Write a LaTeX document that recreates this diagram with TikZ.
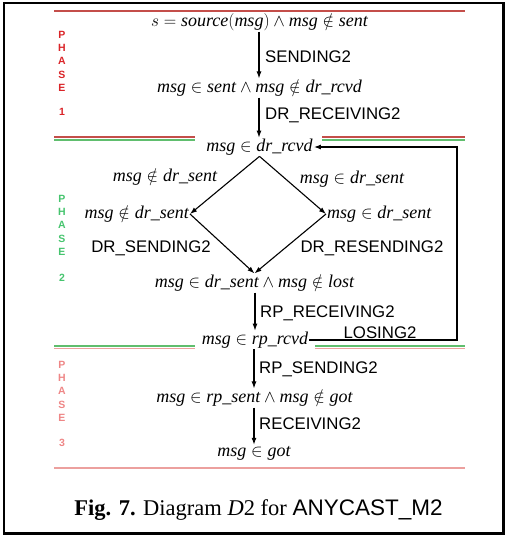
\documentclass[tikz,border=0pt]{standalone}
\usepackage{fontspec}
\setmainfont{Liberation Serif}
\setsansfont{Liberation Sans}
\usetikzlibrary{arrows.meta}
\definecolor{phaseA}{RGB}{218,36,40}
\definecolor{phaseB}{RGB}{70,196,110}
\definecolor{phaseC}{RGB}{238,134,134}
\definecolor{ruleA}{RGB}{196,78,74}
\definecolor{ruleB}{RGB}{96,190,110}
\definecolor{ruleC}{RGB}{236,160,158}
\newcommand{\vn}[1]{\mbox{\itshape #1}}
\begin{document}
\begin{tikzpicture}[x=1pt,y=-1pt,
  cond/.style={inner sep=1pt, font=\fontsize{18}{20}\selectfont},
  act/.style={inner sep=0pt, anchor=west, font=\sffamily\fontsize{16.8}{18}\selectfont},
  flow/.style={line width=1.1pt, -{Latex[length=7pt,width=5pt]}},
  phase/.style={font=\sffamily\bfseries\fontsize{10.5}{13.2}\selectfont, align=center, inner sep=0pt, anchor=north},
  rule/.style={line width=1.2pt}]
\useasboundingbox (0,0) rectangle (506,536);
\draw[line width=2.6pt] (4,3) rectangle (503.5,533.5);

% phase separators
\draw[rule, ruleA] (54,11) -- (465,11);
\draw[rule, ruleA] (54,137) -- (195,137) (322,137) -- (465,137);
\draw[rule, ruleB] (54,140) -- (195,140) (322,140) -- (465,140);
\draw[rule, ruleB] (54,346) -- (195,346) (315,346) -- (465,346);
\draw[rule, ruleC] (54,348.6) -- (195,348.6) (315,348.6) -- (465,348.6);
\draw[rule, ruleC] (54,468) -- (465,468);

% phase labels
\node[phase, text=phaseA] (ph1) at (62,31) {P\\H\\A\\S\\E\\[10.8pt]1};
\node[phase, text=phaseB] (ph2) at (62,195) {P\\H\\A\\S\\E\\[12.8pt]2};
\node[phase, text=phaseC] (ph3) at (62,361) {P\\H\\A\\S\\E\\[11.8pt]3};

% conditions
\node[cond] (s0) at (259.5,22) {$s=\vn{source}(\vn{msg})\wedge\vn{msg}\notin\vn{sent}$};
\node[cond] (s1) at (259.5,88) {$\vn{msg}\in\vn{sent}\wedge\vn{msg}\notin\vn{dr\_rcvd}$};
\node[cond] (s2) at (259.5,147) {$\vn{msg}\in\vn{dr\_rcvd}$};
\node[cond] (eL) at (165,177) {$\vn{msg}\notin\vn{dr\_sent}$};
\node[cond] (eR) at (352,179) {$\vn{msg}\in\vn{dr\_sent}$};
\node[cond, anchor=east] (nL) at (190,214) {$\vn{msg}\notin\vn{dr\_sent}$};
\node[cond, anchor=west] (nR) at (326,214) {$\vn{msg}\in\vn{dr\_sent}$};
\node[cond] (s3) at (254.5,283) {$\vn{msg}\in\vn{dr\_sent}\wedge\vn{msg}\notin\vn{lost}$};
\node[cond] (s4) at (255,340) {$\vn{msg}\in\vn{rp\_rcvd}$};
\node[cond] (s5) at (254.5,398) {$\vn{msg}\in\vn{rp\_sent}\wedge\vn{msg}\notin\vn{got}$};
\node[cond] (s6) at (254,453) {$\vn{msg}\in\vn{got}$};

% action labels
\node[act] (t1) at (265,57) {SENDING2};
\node[act] (t2) at (265,115) {DR\_RECEIVING2};
\node[act, anchor=center] (t3) at (151,248) {DR\_SENDING2};
\node[act, anchor=center] (t4) at (372,248) {DR\_RESENDING2};
\node[act] (t5) at (260,313) {RP\_RECEIVING2};
\node[act, anchor=center] (t6) at (380,333) {LOSING2};
\node[act] (t7) at (259,369) {RP\_SENDING2};
\node[act] (t8) at (259,424) {RECEIVING2};

% transitions
\coordinate (ax1) at (259,0);
\coordinate (ax2) at (255,0);
\coordinate (ax3) at (254,0);
\coordinate (loopx) at (457,0);
\draw[flow] (s0.south -| ax1) -- (s1.north -| ax1);
\draw[flow] (s1.south -| ax1) -- (s2.north -| ax1);
\draw[flow] (s2.south) -- (nL.east);
\draw[flow] (s2.south) -- (nR.west);
\draw[flow] (nL.east) -- (s3.north);
\draw[flow] (nR.west) -- (s3.north);
\draw[flow] (s3.south -| ax2) -- (s4.north -| ax2);
\draw[flow] (s4.south -| ax3) -- (s5.north -| ax3);
\draw[flow] (s5.south -| ax3) -- (s6.north -| ax3);
\draw[flow] (s4.east) -- (s4.east -| loopx) |- (s2.east);

% caption
\node[inner sep=0pt, font=\fontsize{22.5}{24}\selectfont] (cap) at (258.5,510)
  {\textbf{Fig. 7.} Diagram \textit{D}2 for {\sffamily ANYCAST\_M2}};
\end{tikzpicture}
\end{document}
